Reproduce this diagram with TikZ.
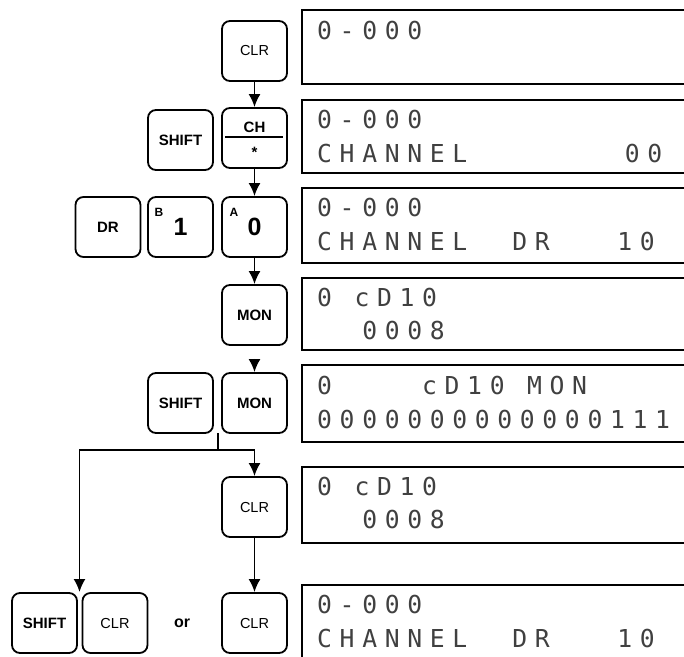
\documentclass[tikz,border=0pt]{standalone}
\usepackage{fontspec}
\usetikzlibrary{arrows.meta}
\newfontfamily\keyfont{Liberation Sans}
\newfontfamily\lcdfont{DejaVu Sans Mono}[LetterSpace=31]

\begin{document}
\begin{tikzpicture}[x=1pt,y=-1pt,>={Latex[length=13pt,width=12pt]},
  key/.style={draw,line width=1.8pt,rounded corners=8pt,minimum width=65pt,minimum height=60pt,inner sep=0pt,
    font=\keyfont\bfseries\fontsize{15}{15}\selectfont},
  plain key/.style={key,font=\keyfont\fontsize{14.5}{14.5}\selectfont},
  big/.style={font=\keyfont\bfseries\fontsize{25}{25}\selectfont},
  tag/.style={font=\keyfont\bfseries\fontsize{12}{12}\selectfont,inner sep=0pt},
  conn/.style={line width=1.8pt},
  lcdbox/.style={line width=2.4pt},
  lcd/.style={anchor=base west,inner sep=0pt,text=black!75,font=\lcdfont\fontsize{24.7}{24.7}\selectfont}]
\useasboundingbox (0,0) rectangle (684,656);
\clip (0,0) rectangle (684,656);

% display frames, open on the right
\foreach \t/\b in {10/84,100/173,188/263,278/350,365/442,467/543,585/700}
  \draw[lcdbox] (700,\t) -- (302,\t) -- (302,\b) -- (700,\b);

% display texts
\node[lcd] (d1a) at (317,39) {0-000};
\node[lcd] (d2a) at (317,128) {0-000};
\node[lcd] (d2b) at (317,162) {CHANNEL~~~~~~~00};
\node[lcd] (d3a) at (317,216) {0-000};
\node[lcd] (d3b) at (317,250) {CHANNEL~~DR~~~10};
\node[lcd] (d4a) at (317,306) {0~cD10};
\node[lcd] (d4b) at (317,339) {~~0008};
\node[lcd] (d5a) at (317,394) {0~~~~cD10~MON};
\node[lcd] (d5b) at (317,428) {0000000000000111};
\node[lcd] (d6a) at (317,495) {0~cD10};
\node[lcd] (d6b) at (317,528) {~~0008};
\node[lcd] (d7a) at (317,613) {0-000};
\node[lcd] (d7b) at (317,647) {CHANNEL~~DR~~~10};

% keys
\node[plain key] (clr1) at (254.5,51) {CLR};
\node[key] (shift1) at (180.5,140) {SHIFT};
\node[key] (ch) at (254.5,138) {};
\node[inner sep=0pt,font=\keyfont\bfseries\fontsize{15}{15}\selectfont] (chtop) at (254.5,127) {CH};
\node[inner sep=0pt,font=\keyfont\bfseries\fontsize{15}{15}\selectfont] (chbot) at (254.5,152) {*};
\coordinate (chl) at (225,137);
\coordinate (chr) at (283,137);
\draw[line width=1.4pt] (chl) -- (chr);
\node[key] (dr) at (108,227) {DR};
\node[key,big] (b1) at (180.5,227) {1};
\node[tag] (btag) at (159,212) {B};
\node[key,big] (a0) at (254.5,227) {0};
\node[tag] (atag) at (234,212) {A};
\node[key] (mon1) at (254.5,315) {MON};
\node[key] (shift2) at (180.5,403) {SHIFT};
\node[key] (mon2) at (254.5,403) {MON};
\node[plain key] (clr2) at (254.5,507) {CLR};
\node[plain key] (clr3) at (254.5,623) {CLR};
\node[key] (shift3) at (44.5,623) {SHIFT};
\node[plain key] (clr4) at (115,623) {CLR};
\node[font=\keyfont\bfseries\fontsize{16}{16}\selectfont] (or) at (182,623) {or};

% flow
\draw[conn,->] (clr1) -- (ch);
\draw[conn,->] (ch) -- (a0);
\draw[conn,->] (a0) -- (mon1);
\draw[conn,->,shorten <=13pt] (mon1) -- (mon2);
\coordinate (stub) at (218,433);
\coordinate (split) at (218,450);
\coordinate (gap) at (79.5,592);
\draw[conn] (stub) -- (split);
\draw[conn,->] (split) -| (clr2);
\draw[conn,->] (split) -| (gap);
\draw[conn,->] (clr2) -- (clr3);
\end{tikzpicture}
\end{document}
